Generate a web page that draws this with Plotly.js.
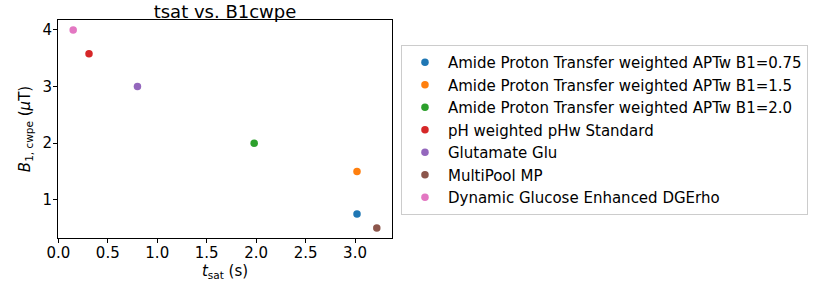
<!DOCTYPE html>
<html><head><meta charset="utf-8">
<script src="https://cdn.plot.ly/plotly-3.0.1.min.js"></script>
<style>body{margin:0;padding:0;background:#fff}</style>
</head><body>
<div id="chart" style="width:814px;height:282px"></div>
<script>
const names = [
  "Amide Proton Transfer weighted APTw B1=0.75",
  "Amide Proton Transfer weighted APTw B1=1.5",
  "Amide Proton Transfer weighted APTw B1=2.0",
  "pH weighted pHw Standard",
  "Glutamate Glu",
  "MultiPool MP",
  "Dynamic Glucose Enhanced DGErho"
];
const tsat = [3.02, 3.02, 1.98, 0.31, 0.80, 3.22, 0.15];
const b1cwpe = [0.75, 1.5, 2.0, 3.58, 3.0, 0.5, 4.0];
const colors = ["#1f77b4", "#ff7f0e", "#2ca02c", "#d62728", "#9467bd", "#8c564b", "#e377c2"];

const font = "DejaVu Sans, sans-serif";
const traces = names.map((n, i) => ({
  type: "scatter", mode: "markers",
  x: [tsat[i]], y: [b1cwpe[i]], name: n,
  marker: {color: colors[i], size: 7.5}
}));

// plot region: 58..392 px horizontally, paper spans 58..809
const layout = {
  width: 814, height: 282,
  margin: {l: 58, r: 5, t: 20, b: 44},
  paper_bgcolor: "#fff", plot_bgcolor: "#fff",
  font: {family: font, size: 15, color: "#000"},
  showlegend: true,
  title: {text: "tsat vs. B1cwpe", font: {family: font, size: 18, color: "#000"},
          x: 0.2224, xref: "paper", xanchor: "center", y: 0.96, yref: "container", yanchor: "middle"},
  xaxis: {
    domain: [0, 0.4447],
    range: [-0.0035, 3.3735], dtick: 0.5, tick0: 0, tickformat: ".1f",
    showgrid: false, zeroline: false, showline: true, mirror: true,
    linecolor: "#000", linewidth: 1, ticks: "outside", ticklen: 4, tickcolor: "#000",
    ticklabelstandoff: -3,
    tickfont: {family: font, size: 15, color: "#000"},
    title: {text: "<i>t</i><sub>sat</sub> (s)", font: {family: font, size: 15, color: "#000"}, standoff: 4}
  },
  yaxis: {
    range: [0.325, 4.175], dtick: 1, tick0: 0,
    showgrid: false, zeroline: false, showline: true, mirror: true,
    linecolor: "#000", linewidth: 1, ticks: "outside", ticklen: 4, tickcolor: "#000",
    ticklabelstandoff: -2,
    tickfont: {family: font, size: 15, color: "#000"},
    title: {text: "<i>B</i><sub>1, cwpe</sub> (<i>μ</i>T)", font: {family: font, size: 15, color: "#000"}, standoff: 8}
  },
  legend: {
    x: 0.4567, xanchor: "left", y: 0.885, yanchor: "top",
    bordercolor: "#cccccc", borderwidth: 1, bgcolor: "#fff",
    font: {family: font, size: 15, color: "#000"},
    itemwidth: 36,
    tracegroupgap: 0
  }
};
Plotly.newPlot("chart", traces, layout, {displayModeBar: false, staticPlot: true});
</script>
</body></html>
